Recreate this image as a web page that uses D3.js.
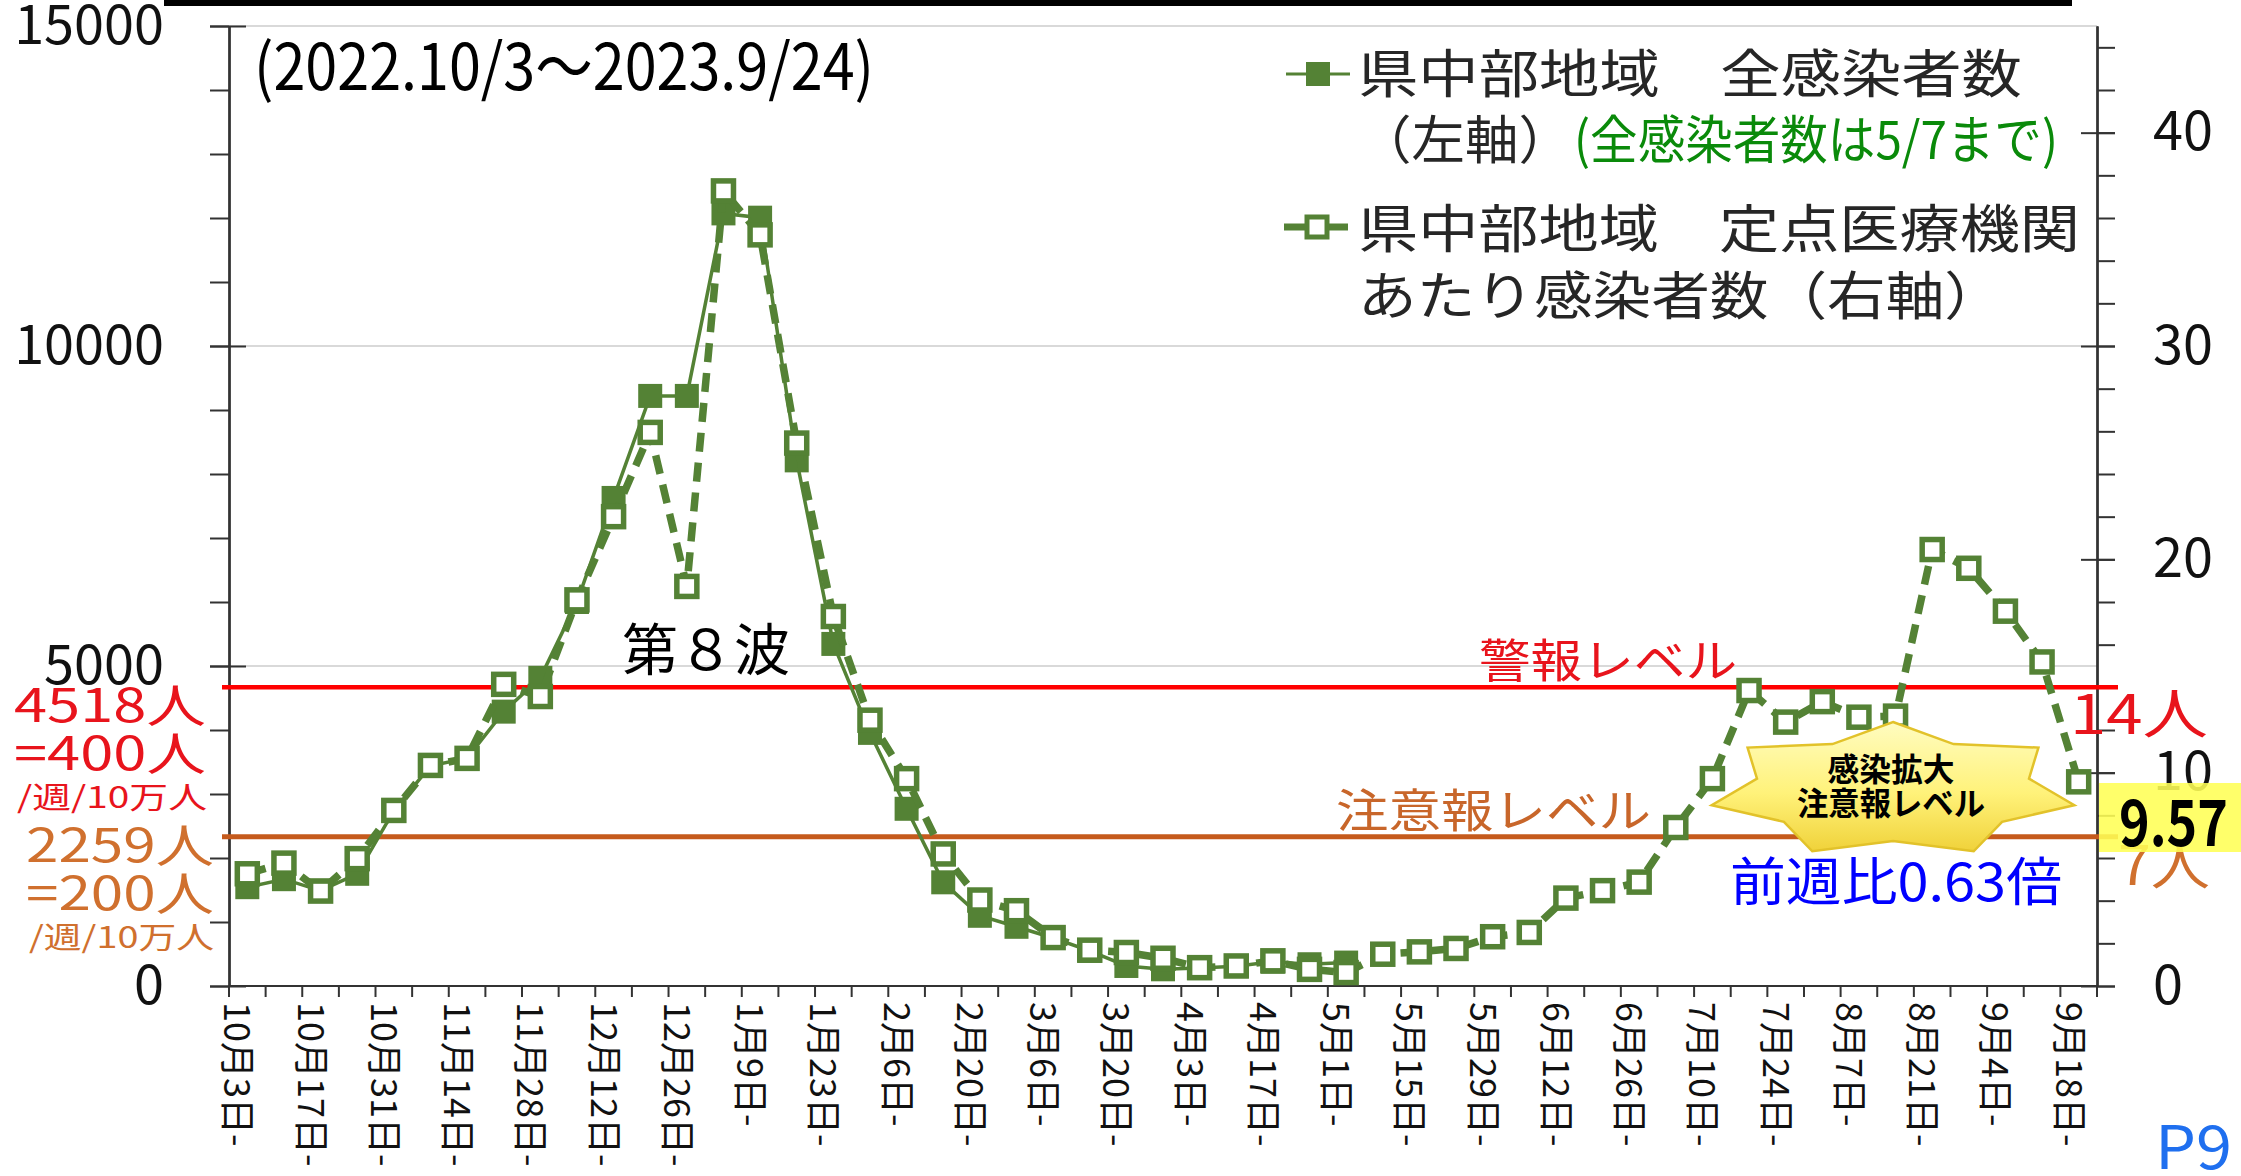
<!DOCTYPE html>
<html>
<head>
<meta charset="utf-8">
<script src="https://cdn.jsdelivr.net/npm/d3@7"></script>
<style>
  body { margin: 0; background: #fff; }
  svg { display: block; }
  text { font-family: "Noto Sans CJK JP", "Noto Sans", sans-serif; }
</style>
</head>
<body>
<div id="chart"></div>
<script>
// weekly categories (week starting)
const weeks = ["10月3日","10月10日","10月17日","10月24日","10月31日","11月7日","11月14日","11月21日","11月28日",
  "12月5日","12月12日","12月19日","12月26日","1月2日","1月9日","1月16日","1月23日","1月30日",
  "2月6日","2月13日","2月20日","2月27日","3月6日","3月13日","3月20日","3月27日",
  "4月3日","4月10日","4月17日","4月24日","5月1日","5月8日","5月15日","5月22日","5月29日",
  "6月5日","6月12日","6月19日","6月26日","7月3日","7月10日","7月17日","7月24日","7月31日",
  "8月7日","8月14日","8月21日","8月28日","9月4日","9月11日","9月18日"];

// 県中部地域 全感染者数 (left axis) - only until 5/7
const totalCases = [1544, 1669, 1490, 1753, 2740, 3440, 3560, 4287, 4815, 6000,
  7626, 9220, 9220, 12072, 12005, 8213, 5345, 3955, 2769, 1620,
  1097, 925, 750, 550, 313, 261, 280, 310, 380, 340, 366];

// 県中部地域 定点医療機関あたり感染者数 (right axis)
const perSentinel = [5.26, 5.76, 4.45, 5.97, 8.23, 10.34, 10.67, 14.14, 13.57, 18.10,
  22.0, 25.95, 18.73, 37.27, 35.21, 25.45, 17.32, 12.46, 9.72, 6.19,
  4.03, 3.53, 2.27, 1.68, 1.57, 1.30, 0.86, 0.94, 1.18, 0.78,
  0.63, 1.49, 1.60, 1.76, 2.31, 2.51, 4.12, 4.47, 4.87, 7.43,
  9.72, 13.85, 12.37, 13.33, 12.60, 12.65, 20.46, 19.58, 17.57, 15.19, 9.57];

const leftTicks = [0, 5000, 10000, 15000];
const rightTicks = [0, 10, 20, 30, 40];
const alertLevel = 14;   // 警報レベル (per sentinel)
const cautionLevel = 7;  // 注意報レベル

const width = 2241, height = 1176;
const green = "#548235";

const svg = d3.select("#chart").append("svg")
  .attr("width", width).attr("height", height);

const x = d3.scaleBand().domain(weeks).range([229, 2097]);
const yL = d3.scaleLinear().domain([0, 15000]).range([986, 26]);
const yR = d3.scaleLinear().domain([0, 45]).range([986, 26]);
const cx = d => x(d) + x.bandwidth() / 2;

// black bar cut off at the top
svg.append("rect").attr("x", 164).attr("y", 0).attr("width", 1908).attr("height", 6).attr("fill", "#000");

// gridlines
svg.append("g").selectAll("line").data([5000, 10000, 15000]).join("line")
  .attr("x1", 229).attr("x2", 2097)
  .attr("y1", d => yL(d)).attr("y2", d => yL(d))
  .attr("stroke", "#d9d9d9").attr("stroke-width", 2);

// axes
function styleAxis(g) {
  g.selectAll("path.domain").attr("stroke", "#333").attr("stroke-width", 2);
  g.selectAll("line").attr("stroke", "#333").attr("stroke-width", 2);
  g.selectAll("text").attr("font-family", "Liberation Sans, Arial, sans-serif")
    .attr("font-size", 54).attr("fill", "#111");
}
const fmt = d3.format("d");
svg.append("g").attr("transform", "translate(229,0)")
  .call(d3.axisLeft(yL).tickValues(d3.range(0, 15001, 1000)).tickSize(19).tickSizeOuter(0).tickFormat(""))
  .call(styleAxis);
svg.append("g").attr("transform", "translate(229,0)")
  .call(d3.axisRight(yL).tickValues(leftTicks).tickSize(17).tickSizeOuter(0).tickFormat(""))
  .call(styleAxis);
svg.append("g").attr("transform", "translate(229,0)")
  .call(d3.axisLeft(yL).tickValues(leftTicks).tickSize(19).tickSizeOuter(0).tickPadding(46).tickFormat(fmt))
  .call(styleAxis);

svg.append("g").attr("transform", "translate(2097,0)")
  .call(d3.axisRight(yR).tickValues(d3.range(0, 45, 2)).tickSize(18).tickSizeOuter(0).tickFormat(""))
  .call(styleAxis);
svg.append("g").attr("transform", "translate(2097,0)")
  .call(d3.axisLeft(yR).tickValues(rightTicks).tickSize(16).tickSizeOuter(0).tickFormat(""))
  .call(styleAxis);
svg.append("g").attr("transform", "translate(2097,0)")
  .call(d3.axisRight(yR).tickValues(rightTicks).tickSize(18).tickSizeOuter(0).tickPadding(38).tickFormat(fmt))
  .call(styleAxis);

// x axis: line, boundary ticks, rotated labels
const xg = svg.append("g");
xg.append("line").attr("x1", 229).attr("x2", 2097).attr("y1", 986).attr("y2", 986)
  .attr("stroke", "#333").attr("stroke-width", 2);
xg.selectAll("line.tk").data(weeks.map(d => x(d)).concat([x.range()[1]])).join("line")
  .attr("class", "tk")
  .attr("x1", d => d).attr("x2", d => d).attr("y1", 986).attr("y2", 997)
  .attr("stroke", "#333").attr("stroke-width", 2);
xg.selectAll("text").data(weeks.filter((d, i) => i % 2 === 0)).join("text")
  .attr("transform", d => "translate(" + (cx(d) - 7) + ",1002) rotate(90)")
  .attr("dominant-baseline", "central")
  .attr("font-size", 36).attr("fill", "#111")
  .text(d => d + "-");

// alert / caution level lines
svg.append("line").attr("x1", 222).attr("x2", 2118)
  .attr("y1", yR(alertLevel)).attr("y2", yR(alertLevel))
  .attr("stroke", "#ff0000").attr("stroke-width", 4.5);
svg.append("line").attr("x1", 222).attr("x2", 2118)
  .attr("y1", yR(cautionLevel)).attr("y2", yR(cautionLevel))
  .attr("stroke", "#c55a1c").attr("stroke-width", 5);

// series 1: total cases (left)
const totalPts = totalCases.map((v, i) => ({ w: weeks[i], v: v }));
svg.append("path").datum(totalPts)
  .attr("fill", "none").attr("stroke", green).attr("stroke-width", 3.5)
  .attr("d", d3.line().x(d => cx(d.w)).y(d => yL(d.v)));
svg.append("g").selectAll("rect").data(totalPts).join("rect")
  .attr("x", d => cx(d.w) - 12).attr("y", d => yL(d.v) - 12)
  .attr("width", 24).attr("height", 24).attr("fill", green);

// series 2: per sentinel (right)
const sentPts = perSentinel.map((v, i) => ({ w: weeks[i], v: v }));
svg.append("path").datum(sentPts)
  .attr("fill", "none").attr("stroke", green).attr("stroke-width", 7.5)
  .attr("stroke-dasharray", "19 11")
  .attr("d", d3.line().x(d => cx(d.w)).y(d => yR(d.v)));
svg.append("g").selectAll("rect").data(sentPts).join("rect")
  .attr("x", d => cx(d.w) - 10).attr("y", d => yR(d.v) - 10)
  .attr("width", 20).attr("height", 20)
  .attr("fill", "#fff").attr("stroke", green).attr("stroke-width", 5.5);

// text helper
function label(t, px, py, size, color, len, opts) {
  opts = opts || {};
  const el = svg.append("text").attr("x", px).attr("y", py)
    .attr("font-size", size).attr("fill", color)
    .attr("text-anchor", opts.anchor || "start")
    .attr("font-weight", opts.weight || 400)
    .text(t);
  if (opts.family) el.attr("font-family", opts.family);
  if (len) el.attr("textLength", len).attr("lengthAdjust", "spacingAndGlyphs");
  return el;
}

// title period
label("(2022.10/3～2023.9/24)", 254, 90, 64, "#000", 620);

// legend
svg.append("line").attr("x1", 1286).attr("x2", 1350).attr("y1", 74).attr("y2", 74)
  .attr("stroke", green).attr("stroke-width", 3);
svg.append("rect").attr("x", 1306).attr("y", 62).attr("width", 24).attr("height", 24).attr("fill", green);
svg.append("line").attr("x1", 1284).attr("x2", 1348).attr("y1", 227).attr("y2", 227)
  .attr("stroke", green).attr("stroke-width", 7);
svg.append("rect").attr("x", 1307).attr("y", 217).attr("width", 20).attr("height", 20)
  .attr("fill", "#fff").attr("stroke", green).attr("stroke-width", 5);

label("県中部地域　全感染者数", 1358, 93, 52, "#262626", 664);
label("（左軸）", 1358, 159, 52, "#262626", 214);
label("(全感染者数は5/7まで)", 1574, 159, 52, "#0a8a0a", 484);
label("県中部地域　定点医療機関", 1358, 248, 52, "#262626", 722);
label("あたり感染者数（右軸）", 1358, 315, 52, "#262626", 645);

// wave label & level labels
label("第８波", 622, 670, 56, "#000", 168);
label("警報レベル", 1479, 677, 46, "#e8141c", 258);
label("注意報レベル", 1336, 827, 46, "#c8662a", 315);

// left annotations
label("4518人", 14, 722, 46, "#e8141c", 192);
label("=400人", 14, 770, 46, "#e8141c", 192);
label("/週/10万人", 17, 808, 30, "#e8141c", 190);
label("2259人", 26, 862, 46, "#d0702e", 188);
label("=200人", 26, 910, 46, "#d0702e", 188);
label("/週/10万人", 29, 948, 30, "#d0702e", 185);

// right annotations
label("14人", 2070, 734, 54, "#e8141c", 138);
label("7人", 2118, 885, 54, "#d0702e", 92);
svg.append("rect").attr("x", 2099).attr("y", 783).attr("width", 142).attr("height", 69)
  .attr("fill", "#ffff55").attr("opacity", 0.88);
label("9.57", 2119, 846, 64, "#000", 109, { weight: 700 });

// starburst
const defs = svg.append("defs");
const grad = defs.append("linearGradient").attr("id", "starFill")
  .attr("x1", 0).attr("y1", 0).attr("x2", 0).attr("y2", 1);
grad.append("stop").attr("offset", "0%").attr("stop-color", "#fffcc0");
grad.append("stop").attr("offset", "55%").attr("stop-color", "#fff27a");
grad.append("stop").attr("offset", "100%").attr("stop-color", "#f0d23a");
const starC = [1893, 790], starR = [186, 68];
const starPts = d3.range(14).map(k => {
  const a = k * Math.PI / 7, r = k % 2 === 0 ? 1 : 0.75;
  return [starC[0] + starR[0] * r * Math.sin(a), starC[1] - starR[1] * r * Math.cos(a)];
});
svg.append("path").attr("d", d3.line()(starPts) + "Z")
  .attr("fill", "url(#starFill)").attr("stroke", "#e2c22a").attr("stroke-width", 2.5);
label("感染拡大", 1891, 781, 32, "#000", 127, { anchor: "middle", weight: 700 });
label("注意報レベル", 1891, 815, 32, "#000", 188, { anchor: "middle", weight: 700 });

label("前週比0.63倍", 1730, 901, 52, "#0000ff", 332);
label("P9", 2155, 1169, 60, "#1f6fef", 77, { family: "Liberation Sans, Arial, sans-serif" });
</script>
</body>
</html>
